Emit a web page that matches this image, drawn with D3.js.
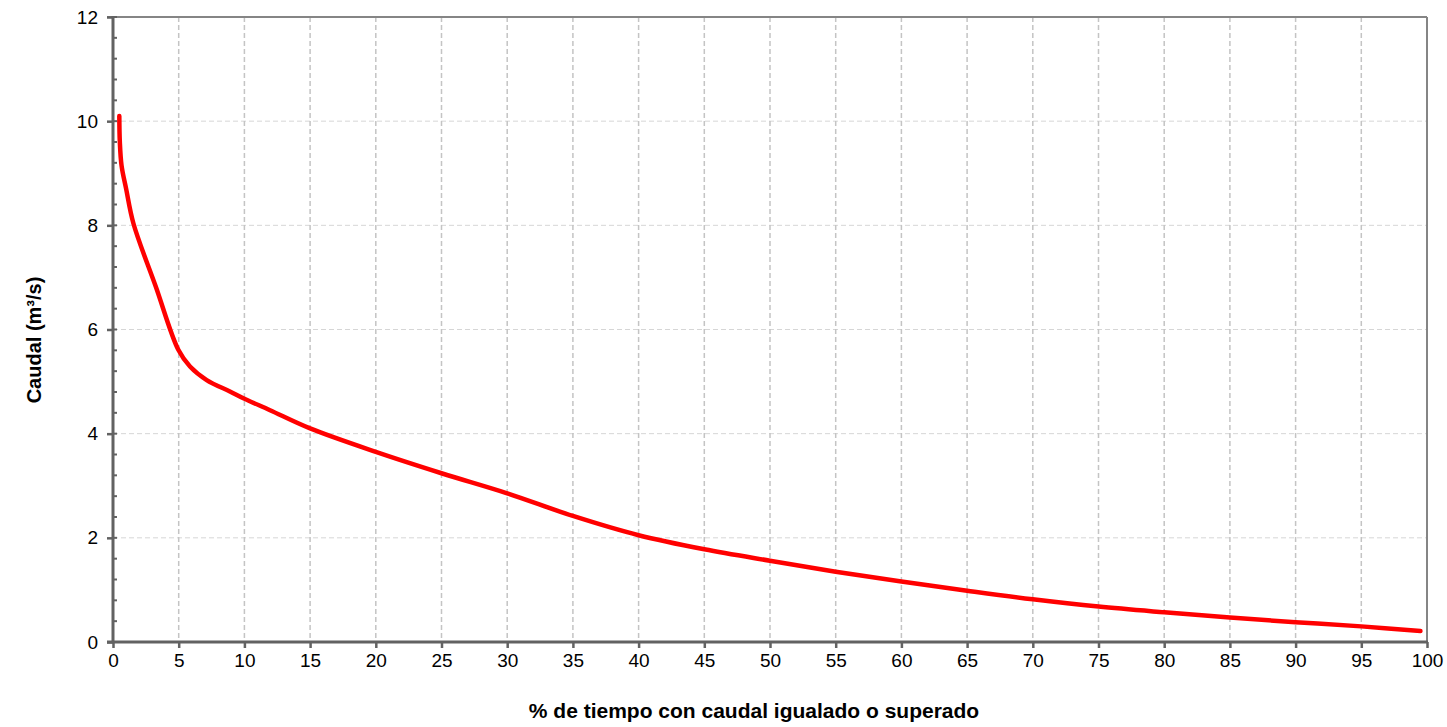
<!DOCTYPE html>
<html><head><meta charset="utf-8">
<script src="https://cdn.jsdelivr.net/npm/d3@7"></script>
<style>html,body{margin:0;padding:0;background:#fff;}svg{display:block;}</style>
</head><body>
<svg id="chart" width="1447" height="727"></svg>
<script>
const pctTime = [0.48, 0.52, 0.65, 1.0, 1.55, 3.26, 4.97, 5.86, 7.13, 8.9, 9.92, 11.95, 15, 20, 25, 30, 35, 40, 45, 50, 55, 60, 65, 70, 75, 80, 85, 90, 95, 99.5];
const caudal  = [10.1, 9.6, 9.15, 8.7, 8.04, 6.82, 5.61, 5.29, 5.03, 4.81, 4.68, 4.45, 4.1, 3.65, 3.24, 2.855, 2.42, 2.05, 1.78, 1.56, 1.35, 1.16, 0.985, 0.82, 0.68, 0.57, 0.47, 0.38, 0.30, 0.21];
const xTicks = [0,5,10,15,20,25,30,35,40,45,50,55,60,65,70,75,80,85,90,95,100];
const yTicks = [0,2,4,6,8,10,12];
const yMinorTicks = d3.range(0, 12.001, 0.4);
const xTitle = "% de tiempo con caudal igualado o superado";
const yTitle = "Caudal (m³/s)";

const svg = d3.select("#chart");
const L = 113, R = 1427, T = 17, B = 642;
const x = d3.scaleLinear().domain([0,100]).range([L,R]);
const y = d3.scaleLinear().domain([0,12]).range([B,T]);
const font = "'Liberation Sans', Arial, sans-serif";

// gridlines
svg.append("g").selectAll("line").data(yTicks.filter(d=>d>0 && d<12)).join("line")
  .attr("x1",L).attr("x2",R).attr("y1",d=>y(d)).attr("y2",d=>y(d))
  .attr("stroke","#d6d6d6").attr("stroke-width",1).attr("stroke-dasharray","5,3");
svg.append("g").selectAll("line").data(xTicks.filter(d=>d>0 && d<100)).join("line")
  .attr("x1",d=>x(d)).attr("x2",d=>x(d)).attr("y1",T).attr("y2",B)
  .attr("stroke","#c4c4c4").attr("stroke-width",1.5).attr("stroke-dasharray","5,3");

// top and right borders
svg.append("line").attr("x1",L-6).attr("x2",R).attr("y1",T).attr("y2",T).attr("stroke","#858585").attr("stroke-width",2);
svg.append("line").attr("x1",R).attr("x2",R).attr("y1",T).attr("y2",B).attr("stroke","#858585").attr("stroke-width",2);

// y axis
const yAxis = d3.axisLeft(y).tickValues(yTicks).tickSize(6).tickPadding(9).tickFormat(d3.format("d"));
const gy = svg.append("g").attr("transform",`translate(${L},0)`).call(yAxis);
gy.select(".domain").remove();
gy.selectAll(".tick line").attr("stroke","#626262").attr("stroke-width",2.5);
gy.selectAll(".tick text").attr("font-family",font).attr("font-size",19).attr("fill","#000");
svg.append("g").selectAll("line").data(yMinorTicks).join("line")
  .attr("x1",L).attr("x2",L+4).attr("y1",d=>y(d)).attr("y2",d=>y(d))
  .attr("stroke","#626262").attr("stroke-width",2);
svg.append("line").attr("x1",L).attr("x2",L).attr("y1",T-1).attr("y2",B+1).attr("stroke","#626262").attr("stroke-width",3);

// x axis
const xAxis = d3.axisBottom(x).tickValues(xTicks).tickSize(6).tickPadding(6).tickFormat(d3.format("d"));
const gx = svg.append("g").attr("transform",`translate(0,${B})`).call(xAxis);
gx.select(".domain").remove();
gx.selectAll(".tick line").attr("stroke","#626262").attr("stroke-width",2.5);
gx.selectAll(".tick text").attr("font-family",font).attr("font-size",19).attr("fill","#000");
svg.append("line").attr("x1",L-6).attr("x2",R+1).attr("y1",B).attr("y2",B).attr("stroke","#626262").attr("stroke-width",3);

// data line
const data = pctTime.map((p,i)=>({p, q: caudal[i]}));
svg.append("path").datum(data)
  .attr("d", d3.line().x(d=>x(d.p)).y(d=>y(d.q)).curve(d3.curveCatmullRom.alpha(0.5)))
  .attr("fill","none").attr("stroke","#ff0000").attr("stroke-width",4.5)
  .attr("stroke-linecap","round").attr("stroke-linejoin","round");

// titles
svg.append("text").attr("x",754).attr("y",718).attr("text-anchor","middle")
  .attr("font-family",font).attr("font-weight","bold").attr("font-size",21).text(xTitle);
svg.append("text").attr("transform","translate(41,340) rotate(-90)").attr("text-anchor","middle")
  .attr("font-family",font).attr("font-weight","bold").attr("font-size",20).text(yTitle);
</script>
</body></html>
